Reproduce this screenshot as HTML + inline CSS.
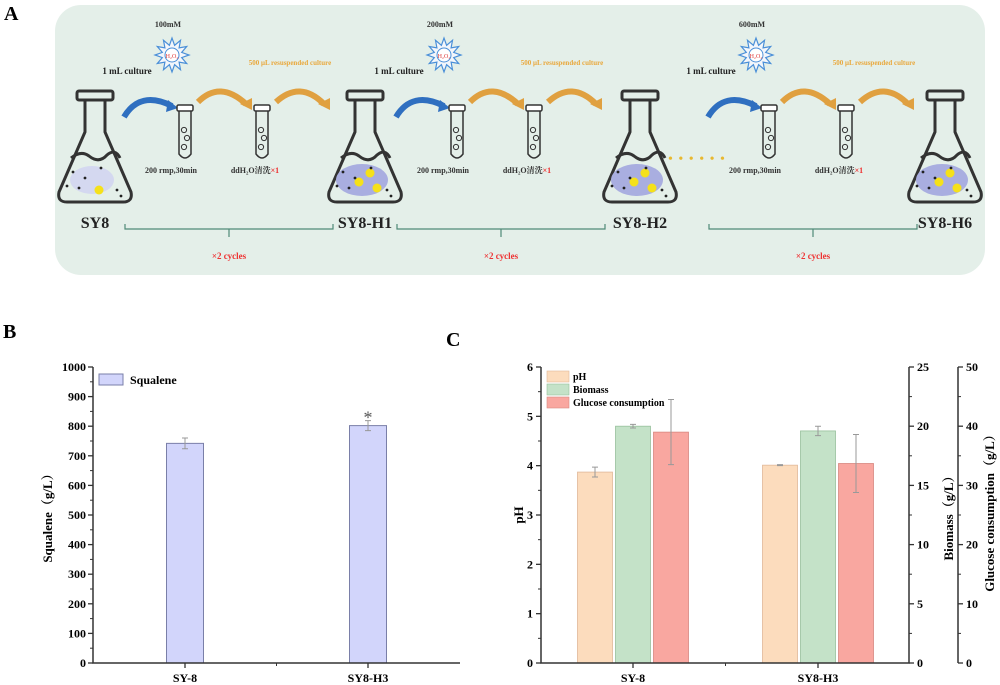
<!DOCTYPE html>
<html><head><meta charset="utf-8">
<style>
html,body{margin:0;padding:0;background:#fff;}
svg{display:block;font-family:"Liberation Serif","Noto Serif CJK SC",serif;}
</style></head>
<body>
<svg id="root" width="1000" height="685" viewBox="0 0 1000 685">
 <g>
  <text x="4" y="20" font-size="20" font-weight="bold">A</text>
  <rect x="55" y="5" width="930" height="270" rx="26" fill="#e4efe9"/>
  <g id="flasks"></g>
  <g id="modules"></g>
  <text x="668" y="163" font-size="14" fill="#e8b830" letter-spacing="1">• • • • • •</text>
 </g>
 <g>
  <text x="3" y="338" font-size="20" font-weight="bold">B</text>
  <g id="chartB"></g>
 </g>
 <g>
  <text x="446" y="346" font-size="20" font-weight="bold">C</text>
  <g id="chartC"></g>
 </g>
</svg>
<script>
const NS="http://www.w3.org/2000/svg";
function mk(parent,tag,attrs,text){const e=document.createElementNS(NS,tag);for(const k in attrs)e.setAttribute(k,attrs[k]);if(text!==undefined)e.textContent=text;parent.appendChild(e);return e;}

const flaskXs=[95,365,640,945];
const flaskNames=["SY8","SY8-H1","SY8-H2","SY8-H6"];
const fl=document.getElementById('flasks');
flaskXs.forEach((cx,i)=>{
  const g=mk(fl,'g',{});
  
  
  mk(g,'rect',{x:cx-18,y:91,width:36,height:9,rx:2,fill:'none',stroke:'#333','stroke-width':3});
  mk(g,'path',{d:`M${cx-10} 101 L${cx-10} 132 L${cx-36} 192 Q${cx-38} 202 ${cx-28} 202 L${cx+28} 202 Q${cx+38} 202 ${cx+36} 192 L${cx+10} 132 L${cx+10} 101`,fill:'none',stroke:'#333','stroke-width':3,'stroke-linejoin':'round'});
  mk(g,'path',{d:`M${cx-24} 158 Q${cx-14} 150 ${cx-6} 156 Q${cx+4} 164 ${cx+12} 155 Q${cx+20} 148 ${cx+25} 158`,fill:'none',stroke:'#333','stroke-width':3});
  mk(g,'ellipse',{cx:cx-3,cy:180,rx:i==0?22:26,ry:i==0?14:16,fill:i==0?'#d4d8f0':'#a9aee0'});
  const ys=i==0?[[cx+4,190]]:[[cx-6,182],[cx+5,173],[cx+12,188]];
  ys.forEach(p=>mk(g,'circle',{cx:p[0],cy:p[1],r:4.5,fill:'#f5e11a'}));
  [[-22,172],[-10,178],[-16,188],[6,168],[22,190],[26,196],[-28,186]].forEach(p=>mk(g,'circle',{cx:cx+p[0],cy:p[1],r:1.4,fill:'#222'}));
  const t=mk(g,'text',{x:cx,y:228,'font-size':16,'font-weight':'bold','text-anchor':'middle',fill:'#222'},flaskNames[i]);
  
  
});
const modOffsets=[0,272,584];
const conc=["100mM","200mM","600mM"];
const md=document.getElementById('modules');
modOffsets.forEach((o,i)=>{
  const g=mk(md,'g',{transform:`translate(${o},0)`});
  
  
  mk(g,'text',{x:168,y:27,'font-size':8,'font-weight':'bold','text-anchor':'middle',fill:'#333'},conc[i]);
  let pts=[];for(let k=0;k<24;k++){const a=k*Math.PI/12;const r=k%2?10:17;pts.push((172+r*Math.cos(a)).toFixed(1)+','+(55+r*Math.sin(a)).toFixed(1));}
  mk(g,'polygon',{points:pts.join(' '),fill:'#f3f6fb',stroke:'#4a8fd8','stroke-width':1.2});
  mk(g,'circle',{cx:172,cy:55,r:7,fill:'#fff',stroke:'#4a8fd8','stroke-width':1});
  mk(g,'text',{x:172,y:58,'font-size':6,'text-anchor':'middle',fill:'#d33'},'H₂O₂');
  mk(g,'text',{x:127,y:74,'font-size':9,'font-weight':'bold','text-anchor':'middle',fill:'#222'},'1 mL culture');
  mk(g,'text',{x:290,y:65,'font-size':7,'font-weight':'bold','text-anchor':'middle',fill:'#e9a83c'},'500 μL resuspended culture');
  mk(g,'path',{d:'M124 117 Q140 90 172 106',fill:'none',stroke:'#2f6fc0','stroke-width':6});
  mk(g,'path',{d:'M168 100 L178 108 L166 112 Z',fill:'#2f6fc0'});
  mk(g,'path',{d:'M198 102 Q220 80 246 104',fill:'none',stroke:'#e0a040','stroke-width':6});
  mk(g,'path',{d:'M240 104 L252 110 L252 98 Z',fill:'#e0a040'});
  mk(g,'path',{d:'M276 102 Q300 80 324 104',fill:'none',stroke:'#e0a040','stroke-width':6});
  mk(g,'path',{d:'M318 104 L330 110 L330 98 Z',fill:'#e0a040'});
  [185,262].forEach(tx=>{
    mk(g,'rect',{x:tx-8,y:105,width:16,height:6,rx:1.5,fill:'#fff',stroke:'#333','stroke-width':1.5});
    mk(g,'path',{d:`M${tx-6} 111 L${tx-6} 154 Q${tx} 162 ${tx+6} 154 L${tx+6} 111`,fill:'none',stroke:'#333','stroke-width':1.5});
    [[-1,130],[2,138],[-1,147]].forEach(p=>mk(g,'circle',{cx:tx+p[0],cy:p[1],r:2.6,fill:'none',stroke:'#333','stroke-width':1}));
  });
  mk(g,'text',{x:171,y:173,'font-size':8,'font-weight':'bold','text-anchor':'middle',fill:'#333'},'200 rmp,30min');
  const tt=mk(g,'text',{x:255,y:173,'font-size':8,'font-weight':'bold','text-anchor':'middle',fill:'#333'},'ddH₂O清洗');
  mk(tt,'tspan',{fill:'#e33'},'×1');
  mk(g,'path',{d:'M125 224 L125 229 L333 229 L333 224 M229 229 L229 237',fill:'none',stroke:'#4f8a78','stroke-width':1.2});
  mk(g,'text',{x:229,y:259,'font-size':9,'font-weight':'bold','text-anchor':'middle',fill:'#e33'},'×2 cycles');
});

const bCategories=["SY-8","SY8-H3"];
const bValues=[742,802];
const bErrors=[18,17];
const bTicks=[0,100,200,300,400,500,600,700,800,900,1000];

(function(){
  const root=document.getElementById('chartB');
  const x0=93,x1=460,yTop=367,yBot=663,vmax=1000;
  const xc=[185,368];
  const y=v=>yBot-(v/vmax)*(yBot-yTop);
  bCategories.forEach((c,i)=>{
    const v=bValues[i],e=bErrors[i];
    const r=mk(root,'rect',{x:xc[i]-18.5,y:y(v),width:37,height:yBot-y(v),fill:'#d2d5fb',stroke:'#7a7fa8','stroke-width':1});
    
    
    const eb=mk(root,'path',{d:`M${xc[i]} ${y(v+e)} L${xc[i]} ${y(v-e)} M${xc[i]-3} ${y(v+e)} L${xc[i]+3} ${y(v+e)} M${xc[i]-3} ${y(v-e)} L${xc[i]+3} ${y(v-e)}`,stroke:'#999','stroke-width':1,fill:'none'});
    
    
    const xl=mk(root,'text',{x:xc[i],y:682,'font-size':12,'font-weight':'bold','text-anchor':'middle'},c);
    
    
    mk(root,'line',{x1:xc[i],x2:xc[i],y1:yBot,y2:yBot+5,stroke:'#333','stroke-width':1.3});
  });
  const st=mk(root,'text',{x:xc[1],y:y(bValues[1]+bErrors[1])+3,'font-size':18,'text-anchor':'middle',fill:'#555'},'*');
  
  
  mk(root,'line',{x1:(xc[0]+xc[1])/2,x2:(xc[0]+xc[1])/2,y1:yBot,y2:yBot+3,stroke:'#333','stroke-width':1});
  const ax=mk(root,'path',{d:`M${x0} ${yTop} L${x0} ${yBot} L${x1} ${yBot}`,fill:'none',stroke:'#333','stroke-width':1.5});
  
  
  bTicks.forEach((t,i)=>{
    mk(root,'line',{x1:x0-5,x2:x0,y1:y(t),y2:y(t),stroke:'#333','stroke-width':1.3});
    if(i<bTicks.length-1)mk(root,'line',{x1:x0-3,x2:x0,y1:y(t+50),y2:y(t+50),stroke:'#333','stroke-width':1});
    const tl=mk(root,'text',{x:x0-7,y:y(t)+4,'font-size':12,'font-weight':'bold','text-anchor':'end'},t);
    
    
  });
  const yt=mk(root,'text',{transform:`translate(52,515) rotate(-90)`,'font-size':13,'font-weight':'bold','text-anchor':'middle'},'Squalene（g/L）');
  
  
  const lg=mk(root,'g',{});
  
  
  mk(lg,'rect',{x:99,y:374,width:24,height:11,fill:'#d2d5fb',stroke:'#7a7fa8','stroke-width':1});
  mk(lg,'text',{x:130,y:384,'font-size':12,'font-weight':'bold'},'Squalene');
})();

const cCategories=["SY-8","SY8-H3"];
const phValues=[3.87,4.01];
const phErrors=[0.1,0.01];
const biomassValues=[20.0,19.6];
const biomassErrors=[0.15,0.4];
const glucoseValues=[39.0,33.7];
const glucoseErrors=[5.5,4.9];
const phTicks=[0,1,2,3,4,5,6];
const biomassTicks=[0,5,10,15,20,25];
const glucoseTicks=[0,10,20,30,40,50];

(function(){
  const root=document.getElementById('chartC');
  const x0=541,x1=909,x2=958,yTop=367,yBot=663;
  const xc=[633,818];
  const yPh=v=>yBot-(v/6)*(yBot-yTop);
  const yBio=v=>yBot-(v/25)*(yBot-yTop);
  const yGlu=v=>yBot-(v/50)*(yBot-yTop);
  const series=[
    {name:'ph',vals:phValues,errs:phErrors,sc:yPh,fill:'#fcdcbd',stroke:'#e0b898',off:-38},
    {name:'biomass',vals:biomassValues,errs:biomassErrors,sc:yBio,fill:'#c4e2c8',stroke:'#98c09c',off:0},
    {name:'glucose',vals:glucoseValues,errs:glucoseErrors,sc:yGlu,fill:'#f9a7a0',stroke:'#d88880',off:38}];
  series.forEach(s=>{
    cCategories.forEach((c,i)=>{
      const cx=xc[i]+s.off,v=s.vals[i],e=s.errs[i];
      const r=mk(root,'rect',{x:cx-17.5,y:s.sc(v),width:35,height:yBot-s.sc(v),fill:s.fill,stroke:s.stroke,'stroke-width':0.8});
      
      
      const eb=mk(root,'path',{d:`M${cx} ${s.sc(v+e)} L${cx} ${s.sc(v-e)} M${cx-3} ${s.sc(v+e)} L${cx+3} ${s.sc(v+e)} M${cx-3} ${s.sc(v-e)} L${cx+3} ${s.sc(v-e)}`,stroke:'#999','stroke-width':1,fill:'none'});
      
      
    });
  });
  cCategories.forEach((c,i)=>{
    const xl=mk(root,'text',{x:xc[i],y:682,'font-size':12,'font-weight':'bold','text-anchor':'middle'},c);
    
    
    mk(root,'line',{x1:xc[i],x2:xc[i],y1:yBot,y2:yBot+5,stroke:'#333','stroke-width':1.3});
  });
  mk(root,'line',{x1:(xc[0]+xc[1])/2,x2:(xc[0]+xc[1])/2,y1:yBot,y2:yBot+3,stroke:'#333','stroke-width':1});
  const ax=mk(root,'path',{d:`M${x0} ${yTop} L${x0} ${yBot} L${x1} ${yBot} L${x1} ${yTop} M${x2} ${yTop} L${x2} ${yBot}`,fill:'none',stroke:'#333','stroke-width':1.5});
  
  
  phTicks.forEach((t,i)=>{
    mk(root,'line',{x1:x0-5,x2:x0,y1:yPh(t),y2:yPh(t),stroke:'#333','stroke-width':1.3});
    if(i<phTicks.length-1)mk(root,'line',{x1:x0-3,x2:x0,y1:yPh(t+0.5),y2:yPh(t+0.5),stroke:'#333','stroke-width':1});
    const tl=mk(root,'text',{x:x0-8,y:yPh(t)+4,'font-size':12,'font-weight':'bold','text-anchor':'end'},t);
    
    
  });
  biomassTicks.forEach((t,i)=>{
    mk(root,'line',{x1:x1,x2:x1+5,y1:yBio(t),y2:yBio(t),stroke:'#333','stroke-width':1.3});
    if(i<biomassTicks.length-1)mk(root,'line',{x1:x1,x2:x1+3,y1:yBio(t+2.5),y2:yBio(t+2.5),stroke:'#333','stroke-width':1});
    const tl=mk(root,'text',{x:x1+8,y:yBio(t)+4,'font-size':12,'font-weight':'bold'},t);
    
    
  });
  glucoseTicks.forEach((t,i)=>{
    mk(root,'line',{x1:x2,x2:x2+5,y1:yGlu(t),y2:yGlu(t),stroke:'#333','stroke-width':1.3});
    if(i<glucoseTicks.length-1)mk(root,'line',{x1:x2,x2:x2+3,y1:yGlu(t+5),y2:yGlu(t+5),stroke:'#333','stroke-width':1});
    const tl=mk(root,'text',{x:x2+8,y:yGlu(t)+4,'font-size':12,'font-weight':'bold'},t);
    
    
  });
  const t1=mk(root,'text',{transform:`translate(523,515) rotate(-90)`,'font-size':13,'font-weight':'bold','text-anchor':'middle'},'pH');
  
  
  const t2=mk(root,'text',{transform:`translate(953,515) rotate(-90)`,'font-size':13,'font-weight':'bold','text-anchor':'middle'},'Biomass（g/L）');
  
  
  const t3=mk(root,'text',{transform:`translate(994,510) rotate(-90)`,'font-size':13,'font-weight':'bold','text-anchor':'middle'},'Glucose consumption（g/L）');
  
  
  const legNames=['pH','Biomass','Glucose consumption'];
  series.forEach((s,i)=>{
    const g=mk(root,'g',{});
    
    
    mk(g,'rect',{x:547,y:371+i*13,width:22,height:11,fill:s.fill,stroke:s.stroke,'stroke-width':0.6});
    mk(g,'text',{x:573,y:380+i*13,'font-size':10,'font-weight':'bold'},legNames[i]);
  });
})();
</script>
</body></html>
